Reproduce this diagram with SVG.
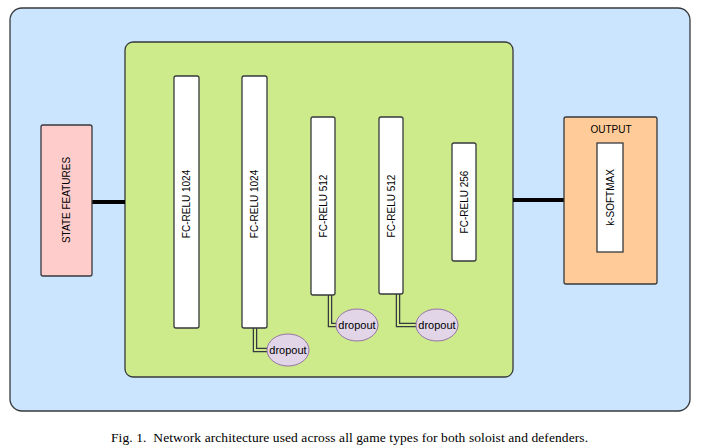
<svg xmlns="http://www.w3.org/2000/svg" width="705" height="447" viewBox="0 0 705 447">
<style>
.box{stroke:#36393d;stroke-width:1.3}
.layer{fill:#ffffff;stroke:#36393d;stroke-width:1.3}
.lbl{font-family:"Liberation Sans",Arial,sans-serif;font-size:10px;fill:#000;text-anchor:middle;dominant-baseline:central}
.dl{font-size:11px}
.drop{fill:#e1d5e7;stroke:#9673a6;stroke-width:1}
.thick{stroke:#000;stroke-width:4;fill:none}
.dblo{stroke:#36393d;stroke-width:4.5;fill:none}
.dbli{stroke:#cdeb8b;stroke-width:2;fill:none}
.cap{font-family:"Liberation Serif","Times New Roman",serif;font-size:13.5px;fill:#000}
</style>
<rect width="705" height="447" fill="#ffffff"/>
<g id="outer"><rect class="box" x="10" y="8" width="680" height="403" rx="12" fill="#cce5ff"/></g>
<g id="network"><rect class="box" x="125" y="42" width="388" height="335" rx="8" fill="#cdeb8b"/></g>
<g id="connectors">
<line class="thick" x1="92" y1="202" x2="125" y2="202"/>
<line class="thick" x1="513" y1="200" x2="564" y2="200"/>
<path class="dblo" d="M255 328 V350 H268"/>
<path class="dbli" d="M255 328 V350 H268"/>
<path class="dblo" d="M330 295 V325 H336"/>
<path class="dbli" d="M330 295 V325 H336"/>
<path class="dblo" d="M398 294 V325 H416"/>
<path class="dbli" d="M398 294 V325 H416"/>
</g>
<g id="state-features"><rect class="box" x="41" y="125" width="51" height="151" rx="2" fill="#ffcccc"/><text class="lbl" transform="translate(66.5 200) rotate(-90)">STATE FEATURES</text></g>
<g id="fc1"><rect class="layer" x="174" y="76" width="25" height="252" rx="2"/><text class="lbl" transform="translate(186.5 204) rotate(-90)">FC-RELU 1024</text></g>
<g id="fc2"><rect class="layer" x="242" y="76" width="25" height="252" rx="2"/><text class="lbl" transform="translate(254.5 204) rotate(-90)">FC-RELU 1024</text></g>
<g id="fc3"><rect class="layer" x="311" y="117" width="24" height="178" rx="2"/><text class="lbl" transform="translate(323 206) rotate(-90)">FC-RELU 512</text></g>
<g id="fc4"><rect class="layer" x="379" y="117" width="24" height="177" rx="2"/><text class="lbl" transform="translate(391 206) rotate(-90)">FC-RELU 512</text></g>
<g id="fc5"><rect class="layer" x="452" y="143" width="24" height="118" rx="2"/><text class="lbl" transform="translate(464 202) rotate(-90)">FC-RELU 256</text></g>
<g id="output"><rect class="box" x="564" y="117" width="93" height="167" rx="2" fill="#ffcc99"/><text class="lbl" x="611" y="129">OUTPUT</text></g>
<g id="softmax"><rect class="layer" x="597" y="143" width="26" height="109"/><text class="lbl" transform="translate(610 197.5) rotate(-90)">k-SOFTMAX</text></g>
<g id="dropout1"><ellipse class="drop" cx="288" cy="350" rx="21" ry="16"/><text class="lbl dl" x="288" y="350">dropout</text></g>
<g id="dropout2"><ellipse class="drop" cx="357" cy="325" rx="21" ry="16"/><text class="lbl dl" x="357" y="325">dropout</text></g>
<g id="dropout3"><ellipse class="drop" cx="437" cy="325" rx="21" ry="16"/><text class="lbl dl" x="437" y="325">dropout</text></g>
<text class="cap" x="111" y="442" textLength="477" lengthAdjust="spacing" xml:space="preserve">Fig. 1.  Network architecture used across all game types for both soloist and defenders.</text>
</svg>
